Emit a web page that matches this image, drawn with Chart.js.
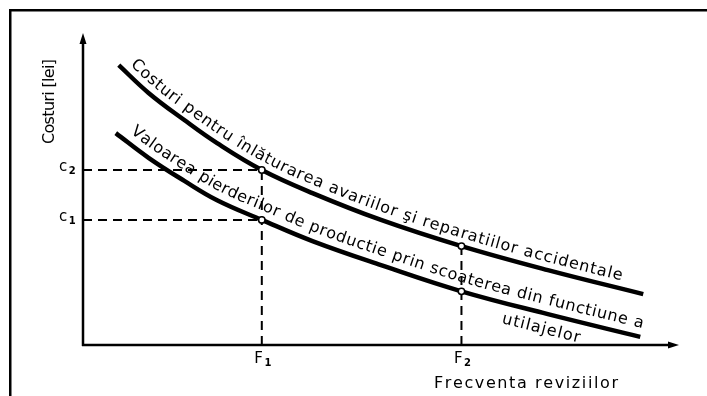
<!DOCTYPE html>
<html>
<head>
<meta charset="utf-8">
<script src="https://cdn.jsdelivr.net/npm/chart.js@4.4.0/dist/chart.umd.min.js"></script>
<style>
  html, body { margin: 0; padding: 0; background: #fff; }
  #wrap { width: 707px; height: 396px; }
</style>
</head>
<body>
<div id="wrap"><canvas id="chart" width="707" height="396"></canvas></div>
<script>
// curve 1: repair costs, curve 2: production losses
const freqRepairs = [6, 11, 17, 22.5, 30, 38.5, 50, 63.5, 78, 94];
const costRepairs = [89.7, 80.8, 72.1, 64.7, 56.1, 48.7, 40.1, 31.7, 24.0, 16.3];
const freqLoss = [5.5, 11, 17, 22.5, 30, 38.5, 50, 63.5, 78, 93.5];
const costLoss = [67.9, 60.0, 52.6, 46.4, 40.1, 33.3, 25.6, 17.2, 9.9, 2.6];
const markIdx = [4, 7];              // points at F1 and F2
const xTickLabels = ['F1', 'F2'];
const yTickLabels = ['c1', 'c2'];
const xTitle = 'Frecventa reviziilor';
const yTitle = 'Costuri [lei]';
const labelRepairs = 'Costuri pentru înlăturarea avariilor şi reparatiilor accidentale';
const labelLoss = 'Valoarea pierderilor de productie prin scoaterea din functiune a';
const labelLoss2 = 'utilajelor';

const F1 = freqRepairs[markIdx[0]];
const F2 = freqRepairs[markIdx[1]];
const c2 = costRepairs[markIdx[0]];
const c1 = costLoss[markIdx[0]];

const pts = (xs, ys) => xs.map((x, i) => ({ x, y: ys[i] }));

function curveStyle(n) {
  return {
    borderColor: '#000',
    borderWidth: 4.5,
    borderCapStyle: 'butt',
    tension: 0.4,
    pointRadius: Array.from({ length: n }, (_, i) => markIdx.includes(i) ? 3.2 : 0),
    pointBackgroundColor: '#fff',
    pointBorderColor: '#000',
    pointBorderWidth: 1.5,
    order: 0
  };
}

function dashStyle() {
  return { borderColor: '#000', borderWidth: 2, borderDash: [9, 6], pointRadius: 0, order: 1 };
}

// sample the drawn bezier curve of a line dataset
function curvePath(meta) {
  const p = meta.data;
  const out = [];
  for (let i = 0; i < p.length - 1; i++) {
    const a = p[i], b = p[i + 1];
    const ax = a.cp2x ?? a.x, ay = a.cp2y ?? a.y;
    const bx = b.cp1x ?? b.x, by = b.cp1y ?? b.y;
    for (let k = 0; k < 24; k++) {
      const t = k / 24, u = 1 - t;
      out.push({
        x: u * u * u * a.x + 3 * u * u * t * ax + 3 * u * t * t * bx + t * t * t * b.x,
        y: u * u * u * a.y + 3 * u * u * t * ay + 3 * u * t * t * by + t * t * t * b.y
      });
    }
  }
  out.push({ x: p[p.length - 1].x, y: p[p.length - 1].y });
  let s = 0;
  out[0].s = 0;
  for (let i = 1; i < out.length; i++) {
    s += Math.hypot(out[i].x - out[i - 1].x, out[i].y - out[i - 1].y);
    out[i].s = s;
  }
  return out;
}

function pointAt(path, s) {
  let i = 1;
  while (i < path.length - 1 && path[i].s < s) i++;
  const a = path[i - 1], b = path[i];
  const ang = Math.atan2(b.y - a.y, b.x - a.x);
  const t = (s - a.s) / ((b.s - a.s) || 1);
  return { x: a.x + (b.x - a.x) * t, y: a.y + (b.y - a.y) * t, a: ang };
}

function arcAtX(path, px) {
  for (let i = 1; i < path.length; i++) {
    if (path[i].x >= px) {
      const a = path[i - 1], b = path[i];
      const t = (px - a.x) / ((b.x - a.x) || 1);
      return a.s + (b.s - a.s) * t;
    }
  }
  const a = path[path.length - 2], b = path[path.length - 1];
  const ang = Math.atan2(b.y - a.y, b.x - a.x);
  return b.s + (px - b.x) / Math.cos(ang);
}

function textOnCurve(ctx, path, text, x0, x1, offset) {
  const chars = [...text];
  const ws = chars.map(ch => ctx.measureText(ch).width);
  const total = ws.reduce((a, b) => a + b, 0);
  const s0 = arcAtX(path, x0), s1 = arcAtX(path, x1);
  const gap = (s1 - s0 - total) / (chars.length - 1);
  let s = s0;
  chars.forEach((ch, i) => {
    const p = pointAt(path, s + ws[i] / 2);
    ctx.save();
    ctx.translate(p.x + Math.sin(p.a) * offset, p.y - Math.cos(p.a) * offset);
    ctx.rotate(p.a);
    ctx.fillText(ch, 0, 0);
    ctx.restore();
    s += ws[i] + gap;
  });
}

// spaced text from x to x+width on baseline y
function spaced(ctx, text, x, y, width) {
  const chars = [...text];
  const ws = chars.map(ch => ctx.measureText(ch).width);
  const total = ws.reduce((a, b) => a + b, 0);
  const gap = (width - total) / (chars.length - 1);
  ctx.textAlign = 'left';
  chars.forEach((ch, i) => {
    ctx.fillText(ch, x, y);
    x += ws[i] + gap;
  });
}

function subLabel(ctx, label, x, y) {
  ctx.textAlign = 'left';
  ctx.font = '15px "DejaVu Sans"';
  ctx.fillText(label[0], x, y);
  const w = ctx.measureText(label[0]).width;
  ctx.font = 'bold 10px "DejaVu Sans"';
  ctx.fillText(label.slice(1), x + w + 1.5, y + 3);
}

const drawing = {
  id: 'drawing',
  beforeDraw(chart) {
    const ctx = chart.ctx;
    ctx.save();
    ctx.fillStyle = '#fff';
    ctx.fillRect(0, 0, chart.width, chart.height);
    ctx.fillStyle = '#000';
    ctx.fillRect(9, 9, chart.width - 9, 2.5);
    ctx.fillRect(9, 9, 2.5, chart.height - 9);
    ctx.restore();
  },
  afterDatasetsDraw(chart) {
    const ctx = chart.ctx;
    const { left, right, top, bottom } = chart.chartArea;
    const xs = chart.scales.x, ys = chart.scales.y;
    ctx.save();
    ctx.fillStyle = '#000';
    ctx.strokeStyle = '#000';
    ctx.lineWidth = 2.5;
    // axes with arrows
    ctx.beginPath();
    ctx.moveTo(left, bottom + 1);
    ctx.lineTo(left, top + 8);
    ctx.moveTo(left - 1, bottom);
    ctx.lineTo(right - 8, bottom);
    ctx.stroke();
    ctx.beginPath();
    ctx.moveTo(left, top);
    ctx.lineTo(left - 3.5, top + 11);
    ctx.lineTo(left + 3.5, top + 11);
    ctx.closePath();
    ctx.moveTo(right, bottom);
    ctx.lineTo(right - 11, bottom - 3.5);
    ctx.lineTo(right - 11, bottom + 3.5);
    ctx.closePath();
    ctx.fill();

    // tick labels
    [F1, F2].forEach((v, i) => subLabel(ctx, xTickLabels[i], xs.getPixelForValue(v) - 7.5, bottom + 18));
    [c1, c2].forEach((v, i) => subLabel(ctx, yTickLabels[i], left - 24, ys.getPixelForValue(v) + 1));

    // titles
    ctx.font = '16px "DejaVu Sans"';
    ctx.textBaseline = 'alphabetic';
    spaced(ctx, xTitle, 434, 388, 184);
    ctx.save();
    ctx.translate(54, 144);
    ctx.rotate(-Math.PI / 2);
    spaced(ctx, yTitle, 0, 0, 85);
    ctx.restore();

    // labels along the curves
    ctx.font = '16px "DejaVu Sans"';
    ctx.textAlign = 'center';
    const pathA = curvePath(chart.getDatasetMeta(0));
    const pathB = curvePath(chart.getDatasetMeta(1));
    textOnCurve(ctx, pathA, labelRepairs, xs.getPixelForValue(7), xs.getPixelForValue(90), 8);
    textOnCurve(ctx, pathB, labelLoss, xs.getPixelForValue(7), xs.getPixelForValue(93.5), 9);
    textOnCurve(ctx, pathB, labelLoss2, xs.getPixelForValue(71), xs.getPixelForValue(84), -20);
    ctx.restore();
  }
};

new Chart(document.getElementById('chart'), {
  type: 'line',
  data: {
    datasets: [
      { data: pts(freqRepairs, costRepairs), ...curveStyle(freqRepairs.length) },
      { data: pts(freqLoss, costLoss), ...curveStyle(freqLoss.length) },
      { data: [{ x: 0, y: c2 }, { x: F1, y: c2 }], ...dashStyle() },
      { data: [{ x: 0, y: c1 }, { x: F1, y: c1 }], ...dashStyle() },
      { data: [{ x: F1, y: 0 }, { x: F1, y: c2 }], ...dashStyle() },
      { data: [{ x: F2, y: 0 }, { x: F2, y: costRepairs[markIdx[1]] }], ...dashStyle() }
    ]
  },
  options: {
    responsive: false,
    animation: false,
    events: [],
    layout: { padding: { left: 83, right: 28, top: 33, bottom: 51 } },
    plugins: { legend: { display: false }, tooltip: { enabled: false } },
    scales: {
      x: { type: 'linear', min: 0, max: 100, display: false },
      y: { type: 'linear', min: 0, max: 100, display: false }
    }
  },
  plugins: [drawing]
});
</script>
</body>
</html>
